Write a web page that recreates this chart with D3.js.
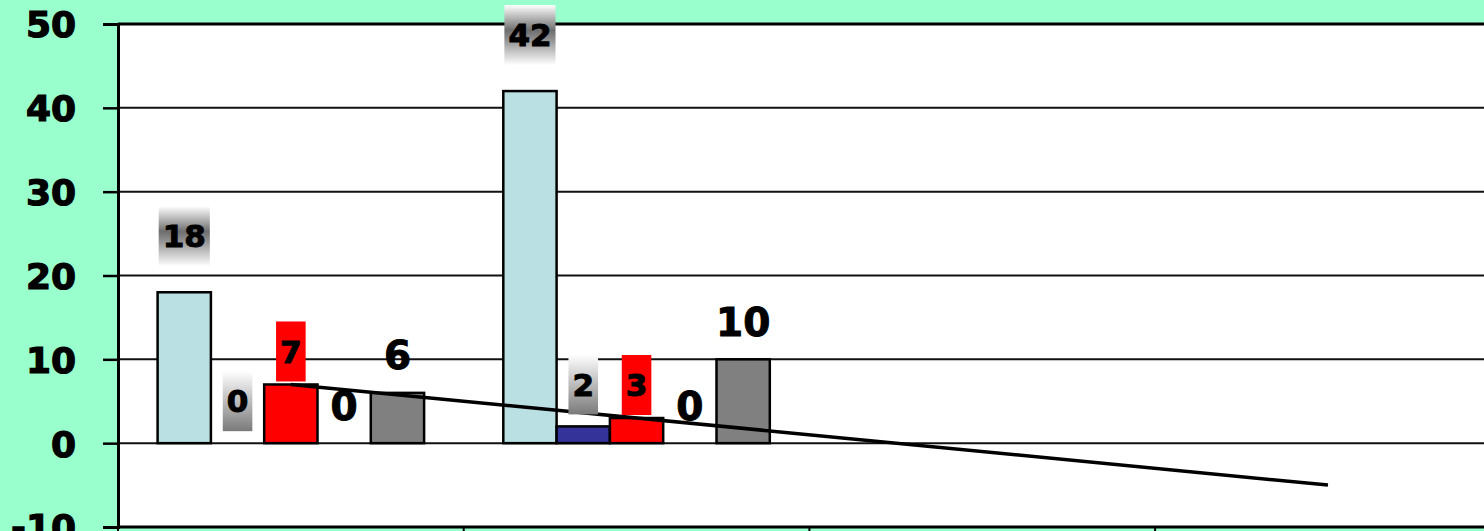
<!DOCTYPE html>
<html>
<head>
<meta charset="utf-8">
<script src="https://cdn.jsdelivr.net/npm/d3@7"></script>
<style>
  html, body { margin: 0; padding: 0; background: #99FFCC; overflow: hidden; }
  svg { display: block; }
  text { font-family: "DejaVu Sans", Verdana, sans-serif; font-weight: bold; fill: #000; }
</style>
</head>
<body>
<svg id="chart" width="1484" height="531"></svg>
<script>
// ---- data ----
const categories = ["1", "2", "3", "4"];
const seriesNames = ["Series 1", "Series 2", "Series 3", "Series 4", "Series 5"];
const series1 = [18, 42, null, null];
const series2 = [0, 2, null, null];
const series3 = [7, 3, null, null];
const series4 = [0, 0, null, null];
const series5 = [6, 10, null, null];
const yTicks = [-10, 0, 10, 20, 30, 40, 50];
const trendForward = 2; // periods projected past the last point

const seriesValues = [series1, series2, series3, series4, series5];

// ---- styling ----
const barColors = ["#BAE0E3", "#333399", "#FF0000", "#FFFFFF", "#808080"];
const labelStyle = [
  { box: "url(#fadeMid)",  size: 31, lift: 56 },
  { box: "url(#fadeDown)", size: 31, lift: 42 },
  { box: "#FF0000",        size: 31, lift: 33 },
  { box: null,             size: 39, lift: 37.5 },
  { box: null,             size: 39, lift: 37.5 }
];

const margin = { left: 118, top: 24 };
const catWidth = 345.7;
const plotBottom = 527;
const W = 1484, H = 531;

const svg = d3.select("#chart");

// gradients for the label boxes
const defs = svg.append("defs");
const gMid = defs.append("linearGradient").attr("id", "fadeMid")
  .attr("x1", 0).attr("y1", 0).attr("x2", 0).attr("y2", 1);
gMid.append("stop").attr("offset", "0%").attr("stop-color", "#ffffff");
gMid.append("stop").attr("offset", "42%").attr("stop-color", "#6e6e6e");
gMid.append("stop").attr("offset", "55%").attr("stop-color", "#8a8a8a");
gMid.append("stop").attr("offset", "100%").attr("stop-color", "#ffffff");
const gDown = defs.append("linearGradient").attr("id", "fadeDown")
  .attr("x1", 0).attr("y1", 0).attr("x2", 0).attr("y2", 1);
gDown.append("stop").attr("offset", "0%").attr("stop-color", "#ffffff");
gDown.append("stop").attr("offset", "100%").attr("stop-color", "#7a7a7a");

// ---- scales ----
const x = d3.scaleBand()
  .domain(categories)
  .range([margin.left, margin.left + catWidth * categories.length])
  .paddingInner(0).paddingOuter(0);

const xInner = d3.scaleBand()
  .domain(seriesNames)
  .range([0, x.bandwidth()])
  .paddingInner(0).paddingOuter(0.743);

const y = d3.scaleLinear().domain([-10, 50]).range([plotBottom, margin.top]);

// ---- plot area ----
svg.append("rect")
  .attr("x", margin.left).attr("y", margin.top)
  .attr("width", W - margin.left + 10).attr("height", plotBottom - margin.top)
  .attr("fill", "#ffffff");

// horizontal gridlines
svg.append("g").selectAll("line")
  .data(yTicks.filter(v => v !== -10 && v !== 50))
  .join("line")
  .attr("x1", margin.left).attr("x2", W + 10)
  .attr("y1", d => y(d)).attr("y2", d => y(d))
  .attr("stroke", "#111").attr("stroke-width", 2);

// top border
svg.append("line")
  .attr("x1", margin.left).attr("x2", W + 10)
  .attr("y1", y(50)).attr("y2", y(50))
  .attr("stroke", "#000").attr("stroke-width", 3);

// ---- y axis ----
const yAxis = d3.axisLeft(y).tickValues(yTicks).tickSize(15).tickPadding(27)
  .tickFormat(d => String(d));
const yAxisG = svg.append("g")
  .attr("transform", `translate(${margin.left},0)`)
  .call(yAxis);
yAxisG.select(".domain").attr("stroke", "#000").attr("stroke-width", 3);
yAxisG.selectAll(".tick line").attr("stroke", "#000").attr("stroke-width", 2.5);
yAxisG.selectAll(".tick text")
  .attr("font-size", 36)
  .attr("font-family", "DejaVu Sans, sans-serif")
  .attr("font-weight", "bold")
  .attr("fill", "#000")
  .attr("stroke", "#000").attr("stroke-width", 1.2)
  .attr("dy", "0.36em");

// ---- x axis (category boundaries) ----
const boundaries = d3.range(categories.length + 1).map(i => margin.left + i * catWidth);
const xAxisG = svg.append("g");
xAxisG.append("line")
  .attr("x1", margin.left).attr("x2", W + 10)
  .attr("y1", plotBottom).attr("y2", plotBottom)
  .attr("stroke", "#000").attr("stroke-width", 3);
xAxisG.selectAll("line.tick")
  .data(boundaries)
  .join("line")
  .attr("class", "tick")
  .attr("x1", d => d).attr("x2", d => d)
  .attr("y1", plotBottom).attr("y2", plotBottom + 15)
  .attr("stroke", "#000").attr("stroke-width", 2);

// ---- bars ----
const points = [];
seriesValues.forEach((vals, si) => {
  vals.forEach((v, ci) => {
    if (v === null) return;
    points.push({ si, ci, v, cat: categories[ci], name: seriesNames[si] });
  });
});

const barX = d => x(d.cat) + xInner(d.name);

svg.append("g").selectAll("rect")
  .data(points.filter(d => d.v !== 0))
  .join("rect")
  .attr("x", barX)
  .attr("width", xInner.bandwidth())
  .attr("y", d => y(Math.max(0, d.v)))
  .attr("height", d => Math.abs(y(d.v) - y(0)))
  .attr("fill", d => barColors[d.si])
  .attr("stroke", "#000").attr("stroke-width", 2.5);

// ---- linear trendline for series 3 ----
const trendData = series3.map((v, i) => [i, v]).filter(d => d[1] !== null);
const n = trendData.length;
const mx = d3.mean(trendData, d => d[0]);
const my = d3.mean(trendData, d => d[1]);
const slope = d3.sum(trendData, d => (d[0] - mx) * (d[1] - my)) /
              d3.sum(trendData, d => (d[0] - mx) * (d[0] - mx));
const intercept = my - slope * mx;
const t0 = trendData[0][0];
const t1 = trendData[n - 1][0] + trendForward;
const trendX = t => margin.left + t * catWidth + xInner(seriesNames[2]) + xInner.bandwidth() / 2;
svg.append("path")
  .datum([t0, t1])
  .attr("d", d3.line().x(t => trendX(t)).y(t => y(intercept + slope * t)))
  .attr("fill", "none")
  .attr("stroke", "#000")
  .attr("stroke-width", 3.5);

// ---- data labels ----
const labels = svg.append("g").selectAll("g")
  .data(points)
  .join("g")
  .attr("transform", d => {
    const cx = barX(d) + xInner.bandwidth() / 2;
    const cy = y(Math.max(0, d.v)) - labelStyle[d.si].lift;
    return `translate(${cx},${cy})`;
  });

labels.each(function (d) {
  const g = d3.select(this);
  const st = labelStyle[d.si];
  const t = g.append("text")
    .attr("text-anchor", "middle")
    .attr("dy", "0.36em")
    .attr("font-size", st.size)
    .attr("stroke", "#000")
    .attr("stroke-width", 1)
    .text(d.v);
  if (st.box) {
    const w = t.node().getComputedTextLength() + 8;
    g.insert("rect", "text")
      .attr("x", -w / 2).attr("y", -30)
      .attr("width", w).attr("height", 60)
      .attr("fill", st.box);
  }
});
</script>
</body>
</html>
